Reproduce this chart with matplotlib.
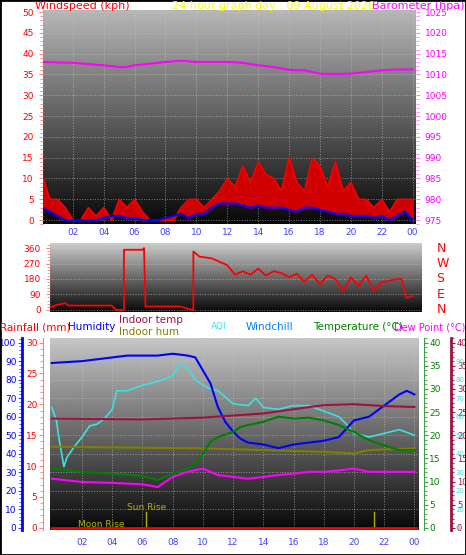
import numpy as np
import matplotlib
matplotlib.use("Agg")
import matplotlib.pyplot as plt
from matplotlib.ticker import MultipleLocator, AutoMinorLocator

# ---- data ----
half_hours = [i * 0.5 for i in range(49)]
wind_gust = [11, 5, 5, 3, 0, 0, 3, 1, 3, 0, 5, 3, 5, 2, 0, 0, 0, 0, 3, 5,
             5, 3, 5, 7, 10, 8, 13, 9, 14, 11, 10, 7, 15, 9, 7, 15, 13, 8,
             14, 7, 9, 5, 5, 3, 5, 2, 5, 5, 5]
wind_avg = [3, 2, 1, 0, 0, 0, 0, 0, 0.5, 1, 1, 0.5, 0.5, 0, 0, 0, 0.5, 1,
            1.5, 0.5, 1.5, 1.5, 3, 4, 4, 4, 3.5, 3, 3.5, 3, 3, 3, 2.5, 2,
            3, 3, 2.5, 2, 1.5, 1.5, 1, 1, 1, 0.5, 1, 0, 1, 2, 0]

baro_hours = [0, 2, 4, 5.3, 6, 8, 9, 10, 12, 13, 14, 15, 16, 17, 18, 19, 20, 21, 22, 23, 24]
baro = [1013, 1012.8, 1012.2, 1011.7, 1012.2, 1013, 1013.3, 1013, 1013, 1012.8,
        1012.2, 1011.8, 1011.1, 1011, 1010.2, 1010.1, 1010.2, 1010.6, 1011, 1011.2, 1011.2]

dir_hours = [0.5, 1, 1.5, 1.7, 2, 4.5, 4.8, 5.3, 5.3, 6.5, 6.6, 6.7, 9, 9.5, 9.8, 9.8,
             10.2, 11, 12, 12.5, 13, 13.5, 14, 14.5, 15, 15.5, 16, 16.5, 17, 17.5,
             18, 18.5, 19, 19.5, 20, 20.5, 21, 21.5, 22, 22.5, 23, 23.3, 23.6, 24]
wind_dir = [15, 30, 40, 25, 25, 25, 0, 0, 350, 350, 360, 20, 20, 5, 0, 340,
            310, 300, 260, 205, 225, 205, 240, 200, 225, 215, 190, 210, 165, 205,
            150, 200, 180, 110, 190, 140, 200, 110, 160, 170, 180, 180, 70, 80]

hum_hours = [0, 2, 3, 4, 5, 6, 7, 8, 9, 9.5, 10, 10.5, 11, 11.5, 12, 12.5, 13, 14,
             15, 16, 17, 18, 19, 20, 21, 22, 23, 23.5, 24]
humidity = [89, 90, 91, 92, 93, 93, 93, 94, 93, 92, 85, 78, 65, 57, 52, 48, 46, 45,
            43, 45, 46, 47, 49, 58, 60, 66, 72, 74, 72]

temp_hours = [0, 2, 4, 6, 7, 8, 9, 9.5, 10, 10.5, 11, 12, 12.5, 13, 14, 15, 16, 17,
              18, 19, 20, 21, 22, 23, 24]
temperature = [12.8, 12.1, 11.7, 11.2, 10.3, 11.7, 12.8, 13.9, 16, 18.6, 19.6, 20.7,
               21.8, 22.2, 22.9, 24, 23.6, 23.8, 23.2, 22.2, 20.7, 18.9, 17.8, 16.8, 16.8]

dew_hours = [0, 2, 4, 6, 7, 8, 9, 10, 11, 12, 13, 14, 15, 16, 17, 18, 19, 20, 21, 22, 24]
dew_point = [10.6, 9.9, 9.7, 9.4, 8.8, 11, 12.1, 12.8, 11.4, 11, 10.6, 11, 11.4,
             11.7, 12.1, 12.1, 12.4, 12.8, 12.1, 12.1, 12.1]

in_temp_hours = [0, 6, 10, 14, 18, 20, 22, 24]
indoor_temp = [23.6, 23.4, 23.8, 24.7, 26.5, 26.7, 26.3, 26.1]

in_hum_hours = [0, 10, 14, 18, 20, 21, 24]
indoor_hum = [43.8, 42.9, 42, 41, 40.2, 42, 42.9]

aqi_hours = [0, 0.3, 0.5, 0.8, 1, 1.5, 2, 2.5, 3, 3.5, 4, 4.3, 5, 6, 7, 8, 8.5, 9,
             9.5, 10, 10.5, 11, 12, 13, 13.5, 14, 15, 15.5, 16, 17, 18, 19, 19.5,
             20, 21, 22, 23, 24]
aqi = [65, 58, 47, 33, 38, 44, 49, 55, 56, 59, 64, 74, 74, 77, 79, 82, 89, 86,
       80, 77, 75, 74, 67, 66, 70, 65, 64, 65, 66, 66, 63, 60, 56, 51, 49, 51, 53, 50]

sun_rise, sun_set = 6.26, 21.3
hour_ticks = list(range(2, 25, 2))
hour_labels = ["%02d" % (h % 24) for h in hour_ticks]

FS = 6.5
HFS = 7.5
fig = plt.figure(figsize=(4.66, 5.55), dpi=100)
fig.patch.set_facecolor("white")


def gradient(ax, top=0.75):
    g = np.linspace(0.03, top, 256).reshape(-1, 1)
    ax.imshow(g, cmap="gray", vmin=0, vmax=1, aspect="auto", origin="lower",
              extent=[0, 1, 0, 1], transform=ax.transAxes, zorder=0)


def style(ax):
    ax.grid(True, color="#c8c8c8", ls=":", lw=0.7, alpha=0.6)
    for s in ax.spines.values():
        s.set_visible(False)


def yticks(ax, color, labelcolor, step, size=FS, **kw):
    ax.yaxis.set_major_locator(MultipleLocator(step))
    ax.yaxis.set_minor_locator(AutoMinorLocator(5))
    ax.tick_params(axis="y", colors=color, labelcolor=labelcolor, labelsize=size, length=3, **kw)
    ax.tick_params(axis="y", which="minor", colors=color, length=2)


# ---- top panel: wind + barometer ----
ax = fig.add_axes([0.092, 0.596, 0.800, 0.386])
gradient(ax, 0.72)
ax.fill_between(half_hours, wind_avg, wind_gust, color="#d00000", zorder=2)
ax.plot(half_hours, wind_gust, color="red", lw=1, zorder=3)
ax.plot(half_hours, wind_avg, color="#0000ff", lw=1.5, zorder=4)
ax.set_xlim(0.06, 24.2)
ax.set_ylim(-1, 50.5)
yticks(ax, "#ff8080", "red", 5)
ax.set_xticks(hour_ticks)
ax.set_xticklabels(hour_labels)
ax.tick_params(axis="x", colors="#4040ff", labelsize=FS, length=0, pad=3)
style(ax)
axb = ax.twinx()
axb.plot(baro_hours, baro, color="#ff00ff", lw=1.5, zorder=5)
axb.set_ylim(974.0, 1025.5)
yticks(axb, "#ff80ff", "#ff00ff", 5)
for s in axb.spines.values():
    s.set_visible(False)

ttl = 1 - 6 / 555
fig.text(35 / 466, ttl, "Windspeed (kph)", color="red", fontsize=8, va="center")
fig.text(172 / 466, ttl, "24 hour graph day : 09 August 2026", color="yellow", fontsize=8,
         va="center")
fig.text(372 / 466, ttl, "Barometer (hpa)", color="#ff00ff", fontsize=8, va="center")

# ---- middle panel: wind direction ----
axd = fig.add_axes([0.107, 0.438, 0.798, 0.124])
gradient(axd, 0.8)
axd.plot(dir_hours, wind_dir, color="red", lw=1.3, zorder=3)
axd.set_xlim(0.5, 24.6)
axd.set_ylim(-12, 389)
axd.set_yticks([0, 90, 180, 270, 360])
axd.yaxis.set_minor_locator(AutoMinorLocator(5))
axd.set_xticks([])
axd.tick_params(axis="y", colors="#ff8080", labelcolor="red", labelsize=FS, length=3)
axd.tick_params(axis="y", which="minor", colors="#ff8080", length=2)
style(axd)
for lab, v in zip(["N", "W", "S", "E", "N"], [360, 270, 180, 90, 0]):
    axd.text(1.04, (v + 12) / 401, lab, color="red", fontsize=9, transform=axd.transAxes,
             ha="left", va="center")

# ---- bottom panel ----
axh = fig.add_axes([0.107, 0.045, 0.790, 0.346])
gradient(axh, 0.78)
axh.set_xlim(-0.13, 24.24)
axh.set_ylim(-1.2, 102.5)
axh.plot(aqi_hours, aqi, color="#40e0e0", lw=1.2, zorder=3)
axh.plot(in_hum_hours, indoor_hum, color="#808000", lw=1.5, zorder=3)
axh.plot(hum_hours, humidity, color="#0000ff", lw=1.5, zorder=4)
axh.plot([sun_rise, sun_rise], [0, 8.5], color="#b0b000", lw=1, zorder=4)
axh.plot([sun_set, sun_set], [0, 8.5], color="#b0b000", lw=1, zorder=4)
axh.text(sun_rise, 8.5, "Sun Rise", color="#b0b000", fontsize=FS, ha="center", va="bottom")
axh.text(3.3, -0.5, "Moon Rise", color="#b0b000", fontsize=FS, ha="center", va="bottom")
axh.set_xticks(hour_ticks)
axh.set_xticklabels(hour_labels)
axh.tick_params(axis="x", colors="#4040ff", labelsize=FS, length=0, pad=6)
yticks(axh, "#4040ff", "#0000ff", 10, pad=1)
style(axh)
axh.spines["left"].set_visible(True)
axh.spines["left"].set_position(("outward", 20))
axh.spines["left"].set_color("#0000ff")
axh.spines["left"].set_linewidth(2)

# rainfall (left, red)
axr = axh.twinx()
axr.yaxis.tick_left()
axr.set_ylim(-0.36, 30.75)
axr.plot([0, 24.2], [0, 0], color="red", lw=2, zorder=5)
yticks(axr, "#ff8080", "red", 5, pad=1)
for s in axr.spines.values():
    s.set_visible(False)
axr.spines["left"].set_visible(True)
axr.spines["left"].set_position(("outward", 5))
axr.spines["left"].set_color("#ff8080")

# temperature (right, green)
axt = axh.twinx()
axt.set_ylim(-0.48, 41.0)
axt.plot(in_temp_hours, indoor_temp, color="#a01040", lw=1.5, zorder=3)
axt.plot(dew_hours, dew_point, color="#ff00ff", lw=1.5, zorder=3)
axt.plot(temp_hours, temperature, color="#008000", lw=1.5, zorder=3)
yticks(axt, "#40a040", "#008000", 5, pad=1)
for s in axt.spines.values():
    s.set_visible(False)
axt.spines["right"].set_visible(True)
axt.spines["right"].set_position(("outward", 4))
axt.spines["right"].set_color("#40a040")

# dew point / indoor temp scale (right, maroon)
axp = axh.twinx()
axp.set_ylim(-0.48, 41.0)
yticks(axp, "#a01040", "#a01040", 5, size=6, pad=1)
for s in axp.spines.values():
    s.set_visible(False)
axp.spines["right"].set_visible(True)
axp.spines["right"].set_position(("outward", 24))
axp.spines["right"].set_color("#a01040")
axp.spines["right"].set_linewidth(2)

# AQI scale labels (cyan)
axq = axh.twinx()
axq.set_ylim(-1.2, 102.5)
axq.set_yticks(range(0, 100, 10))
axq.tick_params(axis="y", colors="#40e0e0", labelcolor="#40e0e0", labelsize=5,
                length=0, pad=0)
for s in axq.spines.values():
    s.set_visible(False)
axq.spines["right"].set_position(("outward", 27))

ty = 1 - 327 / 555
fig.text(0.0, ty, "Rainfall (mm)", color="red", fontsize=HFS, va="center")
fig.text(0.145, ty, "Humidity", color="#0000ff", fontsize=HFS, va="center")
fig.text(0.255, 1 - 320 / 555, "Indoor temp", color="#a01040", fontsize=HFS, va="center")
fig.text(0.255, 1 - 332 / 555, "Indoor hum", color="#808000", fontsize=HFS, va="center")
fig.text(0.453, ty, "AQI", color="#40e0e0", fontsize=6.5, va="center")
fig.text(0.528, ty, "Windchill", color="#0080ff", fontsize=HFS, va="center")
fig.text(0.672, ty, "Temperature (°C)", color="#008000", fontsize=HFS, va="center")
fig.text(0.845, ty, "Dew Point (°C)", color="#ff00ff", fontsize=HFS - 0.5, va="center")

fig.add_artist(plt.Rectangle((0, 0), 1, 1, transform=fig.transFigure, fill=False,
                             edgecolor="black", lw=2))
fig.savefig("out.png", dpi=100, facecolor="white")
